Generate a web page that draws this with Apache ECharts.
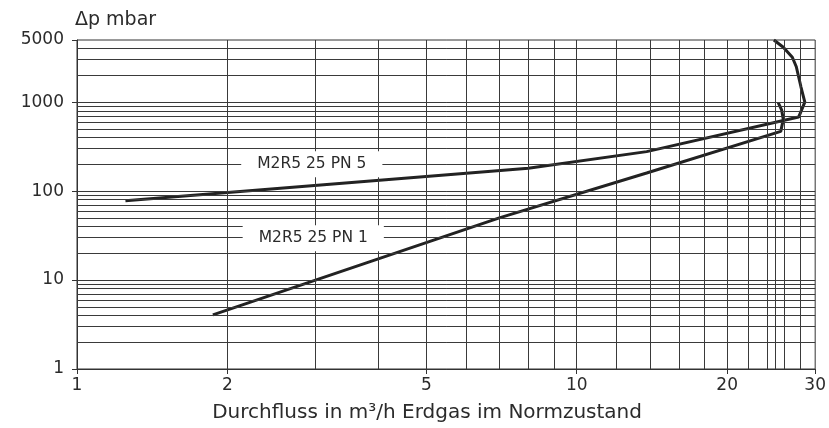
<!DOCTYPE html>
<html><head><meta charset="utf-8">
<script src="https://cdn.jsdelivr.net/npm/echarts@6/dist/echarts.min.js"></script>
<style>html,body{margin:0;padding:0;background:#fff}#c{width:829px;height:428px}</style>
</head><body><div id="c"></div>
<script>
const xTickLabels = [1, 2, 5, 10, 20, 30];
const yTickLabels = [1, 10, 100, 1000, 5000];
const xGridLines = [2, 3, 4, 5, 6, 7, 8, 9, 10, 12, 14, 16, 18, 20, 22, 24, 25, 26, 28];
const yGridLines = [2, 3, 4, 5, 6, 7, 8, 9, 10, 20, 30, 40, 50, 60, 70, 80, 90, 100, 200, 300, 400, 500, 600, 700, 800, 900, 1000, 2000, 3000, 4000];
const pn5Flow = [1.25, 8, 13.8, 27.8, 28.6, 28.1, 27.5, 27.0, 25.9, 24.8];
const pn5Dp = [78, 181, 278, 680, 1000, 1480, 2500, 3200, 4150, 5000];
const pn1Flow = [1.87, 7.0, 13.8, 25.6, 25.9, 25.7, 25.3];
const pn1Dp = [4.06, 50, 160, 470, 640, 820, 990];
const seriesNames = ['M2R5 25 PN 5', 'M2R5 25 PN 1'];
const labelFlow = [2.95, 2.97];
const labelDp = [200, 29.5];
const xTitle = 'Durchfluss in m³/h Erdgas im Normzustand';
const yTitle = 'Δp mbar';

const FONT = 'DejaVu Sans';
const TXT = '#2b2b2b';
const zip = (a, b) => a.map((v, i) => [v, b[i]]);

const chart = echarts.init(document.getElementById('c'), null, {renderer: 'canvas'});
chart.setOption({
  animation: false,
  backgroundColor: '#fff',
  grid: {left: 77, right: 9, top: 40, bottom: 56, show: true, borderColor: '#333', borderWidth: 1},
  xAxis: {
    type: 'log', min: 1, max: 30, logBase: 10,
    name: xTitle, nameLocation: 'middle', nameGap: 34,
    nameTextStyle: {fontFamily: FONT, fontSize: 20, color: TXT, padding: [0, 38, 0, 0]},
    axisLine: {show: true, lineStyle: {color: '#333', width: 1}},
    axisTick: {show: true, length: 5, lineStyle: {color: '#333'}, customValues: xTickLabels},
    axisLabel: {fontFamily: FONT, fontSize: 17, color: TXT, margin: 8, customValues: xTickLabels,
      formatter: v => String(Math.round(v))},
    splitLine: {show: false}, minorTick: {show: false}
  },
  yAxis: {
    type: 'log', min: 1, max: 5000, logBase: 10,
    name: yTitle, nameLocation: 'end', nameGap: 10,
    nameTextStyle: {fontFamily: FONT, fontSize: 19, color: TXT, align: 'left', padding: [0, 0, 0, -2]},
    axisLine: {show: true, lineStyle: {color: '#333', width: 1}},
    axisTick: {show: true, length: 5, lineStyle: {color: '#333'}, customValues: yTickLabels},
    axisLabel: {fontFamily: FONT, fontSize: 17, color: TXT, margin: 13, customValues: yTickLabels,
      formatter: v => String(Math.round(v))},
    splitLine: {show: false}
  },
  series: [
    {
      type: 'scatter', z: 1, silent: true, symbolSize: 0, data: [[1, 1]],
      markLine: {
        silent: true, symbol: ['none', 'none'], animation: false,
        label: {show: false},
        lineStyle: {color: '#3a3a3a', width: 1, type: 'solid'},
        emphasis: {disabled: true},
        data: xGridLines.map(v => ({xAxis: v})).concat(yGridLines.map(v => ({yAxis: v})))
      }
    },
    {
      type: 'line', name: seriesNames[0], z: 3, silent: true, showSymbol: false, symbol: 'none',
      lineStyle: {color: '#222', width: 3}, data: zip(pn5Flow, pn5Dp)
    },
    {
      type: 'line', name: seriesNames[1], z: 3, silent: true, showSymbol: false, symbol: 'none',
      lineStyle: {color: '#222', width: 3}, data: zip(pn1Flow, pn1Dp)
    },
    {
      type: 'scatter', z: 5, silent: true, symbolSize: 0,
      data: seriesNames.map((n, i) => ({value: [labelFlow[i], labelDp[i]], name: n})),
      label: {
        show: true, position: 'inside', formatter: p => p.name,
        fontFamily: FONT, fontSize: 15.5, color: TXT, opacity: 1,
        backgroundColor: '#fff', padding: [5, 16, 5, 16]
      }
    }
  ]
});
</script></body></html>
